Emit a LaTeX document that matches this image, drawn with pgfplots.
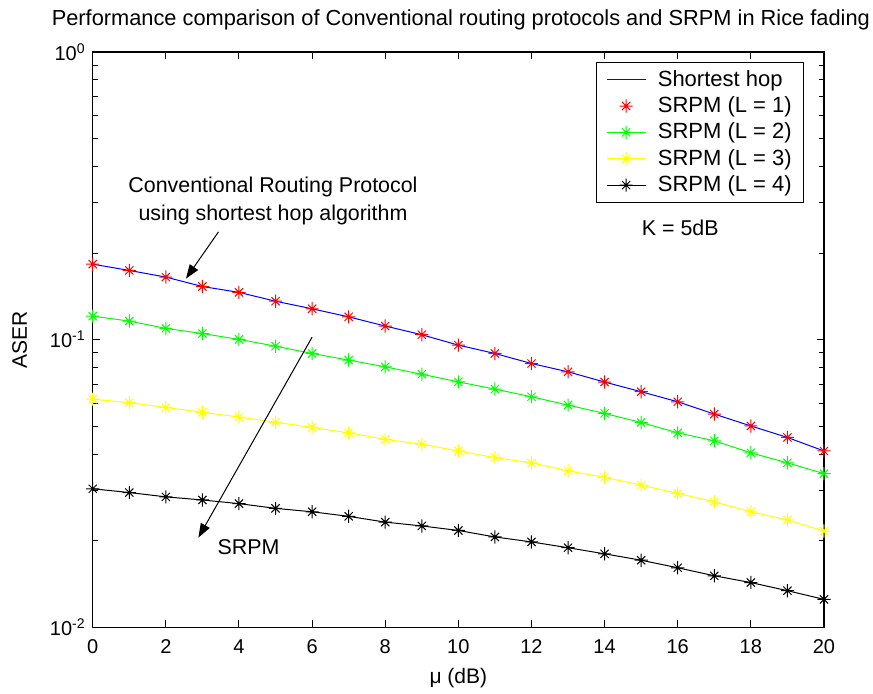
\documentclass[border=0pt]{standalone}
\usepackage{fontspec}
\setmainfont{Liberation Sans}
\usepackage{pgfplots}
\usepackage{pgfplotstable}
\pgfplotsset{compat=1.18}
\usetikzlibrary{arrows.meta}
\definecolor{mblue}{RGB}{0,0,255}
\definecolor{mred}{RGB}{255,0,0}
\definecolor{mgreen}{RGB}{0,255,0}
\definecolor{myellow}{RGB}{255,255,0}
\pgfdeclareplotmark{mstar}{%
 \pgfpathmoveto{\pgfqpoint{-\pgfplotmarksize}{0pt}}\pgfpathlineto{\pgfqpoint{\pgfplotmarksize}{0pt}}%
 \pgfpathmoveto{\pgfqpoint{0pt}{-\pgfplotmarksize}}\pgfpathlineto{\pgfqpoint{0pt}{\pgfplotmarksize}}%
 \pgfpathmoveto{\pgfqpoint{-.62\pgfplotmarksize}{-.62\pgfplotmarksize}}\pgfpathlineto{\pgfqpoint{.62\pgfplotmarksize}{.62\pgfplotmarksize}}%
 \pgfpathmoveto{\pgfqpoint{-.62\pgfplotmarksize}{.62\pgfplotmarksize}}\pgfpathlineto{\pgfqpoint{.62\pgfplotmarksize}{-.62\pgfplotmarksize}}%
 \pgfusepathqstroke}
\pgfplotstableread{
x  hop     L1      L2      L3      L4
0  0.183   0.183   0.1207  0.0621  0.0303
1  0.174   0.174   0.116   0.0604  0.0294
2  0.165   0.165   0.1094  0.0581  0.0284
3  0.153   0.153   0.105   0.0559  0.0277
4  0.146   0.146   0.1002  0.0538  0.0269
5  0.136   0.136   0.0949  0.0516  0.0259
6  0.128   0.128   0.0895  0.0495  0.0252
7  0.120   0.120   0.0849  0.0474  0.0243
8  0.1115  0.1115  0.0804  0.0450  0.0232
9  0.104   0.104   0.0758  0.0433  0.0225
10 0.0957  0.0957  0.0713  0.0410  0.0217
11 0.0895  0.0895  0.0673  0.0389  0.0206
12 0.0826  0.0826  0.0633  0.0373  0.0198
13 0.0773  0.0773  0.0592  0.0350  0.0189
14 0.0712  0.0712  0.0554  0.0332  0.0180
15 0.0659  0.0659  0.0515  0.0312  0.0171
16 0.0608  0.0608  0.0474  0.0292  0.0161
17 0.0551  0.0551  0.0445  0.0273  0.0151
18 0.0501  0.0501  0.0404  0.0252  0.0143
19 0.0457  0.0457  0.0373  0.0236  0.0134
20 0.0410  0.0410  0.0342  0.0216  0.0125
}\datatable
\begin{document}
\begin{tikzpicture}
\begin{axis}[
  at={(0,0)}, anchor=south west,
  scale only axis, width=365.5pt, height=287.5pt,
  xmin=0, xmax=20, ymode=log, ymin=0.01, ymax=1,
  xtick={0,2,...,20},
  ytick={0.01,0.1,1},
  yticklabels={10\textsuperscript{-2},10\textsuperscript{-1},10\textsuperscript{0}},
  tick align=inside, major tick length=3.5pt, minor tick length=2.5pt,
  axis line style={line width=0.6pt},
  every tick/.style={black, line width=0.5pt},
  tick label style={font=\fontsize{10}{12}\selectfont},
  /pgf/number format/assume math mode=true,
  xticklabel style={yshift=-2.5pt},
  xlabel={μ (dB)},
  xlabel style={at={(axis description cs:0.5,-0.097)}, anchor=base, font=\fontsize{10.5}{12}\selectfont},
  ylabel={ASER},
  ylabel style={at={(axis description cs:-0.1,0.5)}, anchor=center, font=\fontsize{10.5}{12}\selectfont},
  legend image code/.code={\draw[mark repeat=2,mark phase=2,#1] plot coordinates {(0pt,0pt) (9.75pt,0pt) (19.5pt,0pt)};},
  legend style={at={(axis description cs:0.973,0.9826)}, anchor=north east,
    draw=black, line width=0.5pt, fill=white,
    font=\fontsize{11}{13}\selectfont, inner xsep=4.8pt, inner ysep=2pt,
    nodes={inner xsep=1.2pt, inner ysep=1.85pt}, /tikz/every odd column/.append style={column sep=4.6pt}},
  legend cell align=left,
  every axis plot/.append style={line width=0.5pt, mark size=3.3pt},
]
\addplot[mblue, no marks, legend image code/.code={\draw[color=mblue, line width=0.6pt] (0pt,0pt) -- (19.5pt,0pt);}] table[x=x,y=hop]{\datatable};
\addlegendentry{Shortest hop\hspace{2.5pt}}
\addplot[mred, only marks, mark=mstar] table[x=x,y=L1]{\datatable};
\addlegendentry{SRPM (L = 1)\hspace{2.5pt}}
\addplot[mgreen, mark=mstar] table[x=x,y=L2]{\datatable};
\addlegendentry{SRPM (L = 2)\hspace{2.5pt}}
\addplot[myellow, mark=mstar] table[x=x,y=L3]{\datatable};
\addlegendentry{SRPM (L = 3)\hspace{2.5pt}}
\addplot[black, mark=mstar] table[x=x,y=L4]{\datatable};
\addlegendentry{SRPM (L = 4)\hspace{2.5pt}}
\draw[line width=0.5pt, -{Triangle[length=7pt,width=5pt]}] (axis cs:3.44,0.237) -- (axis cs:2.55,0.163);
\draw[line width=0.5pt, -{Triangle[length=7pt,width=5pt]}] (axis cs:6.0,0.102) -- (axis cs:2.89,0.0205);
\node[align=center, font=\fontsize{10.7}{14}\selectfont] at (axis cs:4.93,0.303) {Conventional Routing Protocol\\using shortest hop algorithm};
\node[font=\fontsize{10.7}{13}\selectfont] at (axis cs:4.26,0.019) {SRPM};
\node[font=\fontsize{10.7}{13}\selectfont] at (axis cs:16.07,0.245) {K = 5dB};
\end{axis}
\node[anchor=base, font=\fontsize{10.9}{13}\selectfont] at (184pt,301pt) {Performance comparison of Conventional routing protocols and SRPM in Rice fading};
\pgfresetboundingbox
\path[use as bounding box] (-46.35pt,-33pt) rectangle (390pt,313.5pt);
\end{tikzpicture}
\end{document}
